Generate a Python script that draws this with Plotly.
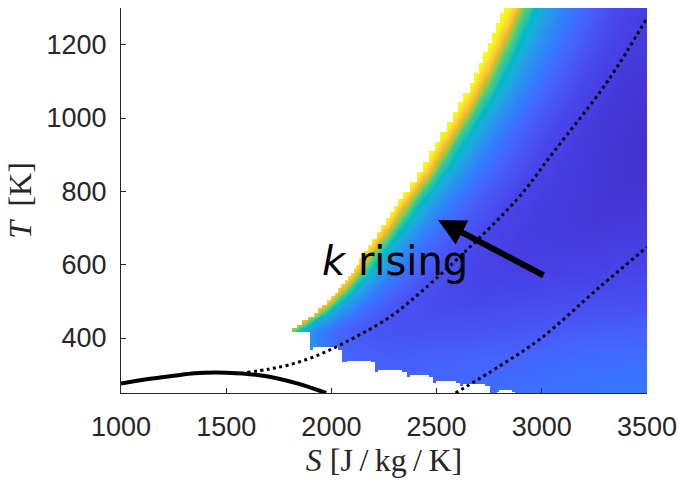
import numpy as np
import plotly.graph_objects as go

# ---------------- axes ----------------
S_range = [1000, 3500]
T_range = [250, 1300]
x_ticks = [1000, 1500, 2000, 2500, 3000, 3500]
y_ticks = [400, 600, 800, 1000, 1200]

# ---------------- k field (relative) ----------------
# left (high-density) boundary of the data region
edge_T = [416, 471, 514, 569, 642, 705, 778, 852, 933, 1004, 1086, 1205, 1300]
edge_S = [1800, 1932, 2008, 2088, 2169, 2245, 2326, 2421, 2502, 2578, 2659, 2754, 2825]

# lower boundary of the data region (step function: below low_T is empty)
low_S = [1000, 1898, 1915, 2035, 2055, 2075, 2190, 2207, 2225, 2340, 2359, 2375,
         2465, 2483, 2500, 2595, 2611, 2630, 2735, 2754, 2787, 2800, 2860, 2873]
low_T = [416, 370, 376, 370, 334, 340, 334, 309, 314, 309, 293, 298,
         293, 280, 284, 280, 268, 273, 268, 250, 255, 259, 255, 250]

# relative k vs distance (in S) from the left boundary, for several T rows
prof_offset = [0, 20, 50, 90, 140, 200, 280, 380, 520, 700, 1000, 1400, 2200]
prof_T = [250, 350, 420, 500, 600, 700, 800, 900, 1000, 1100, 1200, 1300]
k_T250 = [0.60, 0.50, 0.38, 0.30, 0.26, 0.23, 0.21, 0.20, 0.20, 0.21, 0.22, 0.24, 0.26]
k_T350 = [0.66, 0.54, 0.42, 0.32, 0.27, 0.22, 0.19, 0.18, 0.17, 0.18, 0.19, 0.21, 0.23]
k_T420 = [0.75, 0.62, 0.47, 0.35, 0.28, 0.22, 0.18, 0.15, 0.14, 0.14, 0.15, 0.17, 0.19]
k_T500 = [0.88, 0.75, 0.56, 0.40, 0.31, 0.24, 0.18, 0.14, 0.12, 0.11, 0.12, 0.13, 0.14]
k_T600 = [0.95, 0.85, 0.64, 0.46, 0.35, 0.27, 0.20, 0.15, 0.11, 0.09, 0.09, 0.10, 0.10]
k_T700 = [0.98, 0.90, 0.72, 0.52, 0.39, 0.30, 0.22, 0.16, 0.11, 0.08, 0.07, 0.08, 0.08]
k_T800 = [1.00, 0.93, 0.77, 0.56, 0.42, 0.32, 0.24, 0.17, 0.11, 0.08, 0.06, 0.06, 0.06]
k_T900 = [1.00, 0.94, 0.80, 0.58, 0.44, 0.34, 0.25, 0.18, 0.11, 0.075, 0.05, 0.05, 0.05]
k_T1000 = [1.00, 0.95, 0.82, 0.60, 0.46, 0.35, 0.26, 0.18, 0.11, 0.07, 0.05, 0.05, 0.05]
k_T1100 = [1.00, 0.96, 0.84, 0.62, 0.47, 0.36, 0.27, 0.19, 0.115, 0.07, 0.05, 0.05, 0.05]
k_T1200 = [1.00, 0.97, 0.86, 0.64, 0.48, 0.37, 0.28, 0.20, 0.12, 0.075, 0.06, 0.06, 0.06]
k_T1300 = [1.00, 0.98, 0.88, 0.66, 0.49, 0.37, 0.28, 0.20, 0.12, 0.08, 0.07, 0.07, 0.07]

# ---------------- lines ----------------
sat_S = [1000, 1130, 1250, 1350, 1450, 1550, 1650, 1750, 1850, 1975]
sat_T = [276, 288, 297, 304, 306, 304, 299, 289, 274, 250]

iso1_S = [1600, 1700, 1800, 1922, 2065, 2264, 2374, 2625, 2882, 3053, 3315, 3500]
iso1_T = [306, 315, 327, 350, 388, 452, 500, 630, 778, 905, 1102, 1273]

iso2_S = [2590, 2801, 2991, 3277, 3500]
iso2_T = [250, 324, 397, 540, 648]

arrow_tip = (2507, 722)
arrow_tail = (3015, 569)
label_pos = (2302, 610)

# ---------------- parula colormap ----------------
parula = [
    [0.2422, 0.1504, 0.6603], [0.2504, 0.1650, 0.7076], [0.2578, 0.1818, 0.7511], [0.2647, 0.1978, 0.7952],
    [0.2706, 0.2147, 0.8364], [0.2751, 0.2342, 0.8710], [0.2783, 0.2559, 0.8991], [0.2803, 0.2782, 0.9221],
    [0.2813, 0.3006, 0.9414], [0.2810, 0.3228, 0.9579], [0.2795, 0.3447, 0.9717], [0.2760, 0.3667, 0.9829],
    [0.2699, 0.3892, 0.9906], [0.2602, 0.4123, 0.9952], [0.2440, 0.4358, 0.9988], [0.2206, 0.4603, 0.9973],
    [0.1963, 0.4847, 0.9892], [0.1834, 0.5074, 0.9798], [0.1786, 0.5289, 0.9682], [0.1764, 0.5499, 0.9520],
    [0.1687, 0.5703, 0.9359], [0.1540, 0.5902, 0.9218], [0.1460, 0.6091, 0.9079], [0.1380, 0.6276, 0.8973],
    [0.1248, 0.6459, 0.8883], [0.1113, 0.6635, 0.8763], [0.0952, 0.6798, 0.8598], [0.0689, 0.6948, 0.8394],
    [0.0297, 0.7082, 0.8163], [0.0036, 0.7203, 0.7917], [0.0067, 0.7312, 0.7660], [0.0433, 0.7411, 0.7394],
    [0.0964, 0.7500, 0.7120], [0.1408, 0.7584, 0.6842], [0.1717, 0.7670, 0.6554], [0.1938, 0.7758, 0.6251],
    [0.2161, 0.7843, 0.5923], [0.2470, 0.7918, 0.5567], [0.2906, 0.7973, 0.5188], [0.3406, 0.8008, 0.4789],
    [0.3909, 0.8029, 0.4354], [0.4456, 0.8024, 0.3909], [0.5044, 0.7993, 0.3480], [0.5616, 0.7942, 0.3045],
    [0.6174, 0.7876, 0.2612], [0.6720, 0.7793, 0.2227], [0.7242, 0.7698, 0.1910], [0.7738, 0.7598, 0.1646],
    [0.8203, 0.7498, 0.1535], [0.8634, 0.7406, 0.1596], [0.9035, 0.7330, 0.1774], [0.9393, 0.7288, 0.2100],
    [0.9728, 0.7298, 0.2394], [0.9956, 0.7434, 0.2371], [0.9970, 0.7659, 0.2199], [0.9952, 0.7893, 0.2028],
    [0.9892, 0.8136, 0.1885], [0.9786, 0.8386, 0.1766], [0.9676, 0.8639, 0.1643], [0.9610, 0.8890, 0.1537],
    [0.9597, 0.9135, 0.1423], [0.9628, 0.9373, 0.1265], [0.9691, 0.9606, 0.1064], [0.9769, 0.9839, 0.0805]]
colorscale = [[i / (len(parula) - 1), "rgb(%d,%d,%d)" % tuple(round(255 * c) for c in col)]
              for i, col in enumerate(parula)]

# ---------------- build the field grid from the read tables ----------------
S = np.arange(S_range[0], S_range[1] + 0.1, 5.0)
T = np.arange(T_range[0], T_range[1] + 0.1, 2.5)
nT, nS = len(T), len(S)
SS, TT = np.meshgrid(S, T)
edge_fine = np.interp(T, edge_T, edge_S)
off = SS - edge_fine[:, None]
rows = [k_T250, k_T350, k_T420, k_T500, k_T600, k_T700, k_T800, k_T900,
        k_T1000, k_T1100, k_T1200, k_T1300]
V = np.stack([np.interp(off, prof_offset, r) for r in rows])
pT = np.array(prof_T, dtype=float)
idx = np.clip(np.searchsorted(pT, T) - 1, 0, len(pT) - 2)
w = np.clip((T - pT[idx]) / (pT[idx + 1] - pT[idx]), 0, 1)
ar = np.arange(nT)
Z = V[idx, ar] * (1 - w)[:, None] + V[idx + 1, ar] * w[:, None]

# stair-stepped left boundary (coarse source grid) and lower boundary
Tq = np.where(T < 600, 250 + np.floor((T - 250) / 11) * 11 + 5.5,
              np.where(T < 800, 600 + np.floor((T - 600) / 18) * 18 + 9,
                       800 + np.floor((T - 800) / 27) * 27 + 13.5))
edge_q = np.interp(Tq, edge_T, edge_S)
mask = SS < edge_q[:, None]
lowS = np.array(low_S, dtype=float)
lowT = np.array(low_T, dtype=float)
T_low = lowT[np.clip(np.searchsorted(lowS, S, side="right") - 1, 0, len(lowS) - 1)]
mask |= TT < T_low[None, :]
Z = np.round(Z, 3)
Z[mask] = np.nan

fig = go.Figure()
fig.add_trace(go.Heatmap(x=S, y=T, z=Z, colorscale=colorscale, zmin=0, zmax=1,
                         showscale=False, hoverinfo="skip", zsmooth=False))
fig.add_trace(go.Scatter(x=sat_S, y=sat_T, mode="lines", line=dict(color="black", width=4, shape="spline"),
                         hoverinfo="skip"))
fig.add_trace(go.Scatter(x=iso1_S, y=iso1_T, mode="lines",
                         line=dict(color="black", width=3, dash="3px,3.5px", shape="spline"), hoverinfo="skip"))
fig.add_trace(go.Scatter(x=iso2_S, y=iso2_T, mode="lines",
                         line=dict(color="black", width=3, dash="3px,3.5px", shape="spline"), hoverinfo="skip"))

fig.add_annotation(x=arrow_tip[0], y=arrow_tip[1], ax=arrow_tail[0], ay=arrow_tail[1],
                   xref="x", yref="y", axref="x", ayref="y", text="", showarrow=True,
                   arrowhead=2, arrowsize=0.9, arrowwidth=6, arrowcolor="black")
fig.add_annotation(x=label_pos[0], y=label_pos[1], xref="x", yref="y", text="<i>k</i> rising",
                   showarrow=False, font=dict(family="DejaVu Sans", size=40, color="black"))

axis_col = "#262626"
tickfont = dict(family="Liberation Sans, Arial", size=27, color=axis_col)
fig.update_layout(
    width=679, height=482, margin=dict(l=121, r=32, t=8, b=89, autoexpand=False),
    plot_bgcolor="white", paper_bgcolor="white", showlegend=False,
    xaxis=dict(range=S_range, tickvals=x_ticks, ticks="inside", ticklen=5, tickcolor=axis_col,
               showline=True, linecolor=axis_col, linewidth=1, showgrid=False, zeroline=False,
               tickfont=tickfont, ticklabelstandoff=10, automargin=False, ticklabeloverflow="allow",
               title=dict(text="<i>S</i> [J\u2009/\u2009kg\u2009/\u2009K]", standoff=0,
                          font=dict(family="Liberation Serif", size=32, color=axis_col))),
    yaxis=dict(range=T_range, tickvals=y_ticks, ticks="inside", ticklen=5, tickcolor=axis_col,
               showline=True, linecolor=axis_col, linewidth=1, showgrid=False, zeroline=False,
               tickfont=tickfont, ticklabelstandoff=8, automargin=False,
               title=dict(text="<i>T</i>\u2009 [K]", standoff=5,
                          font=dict(family="Liberation Serif", size=32, color=axis_col))),
)
fig.write_html("out.html")
